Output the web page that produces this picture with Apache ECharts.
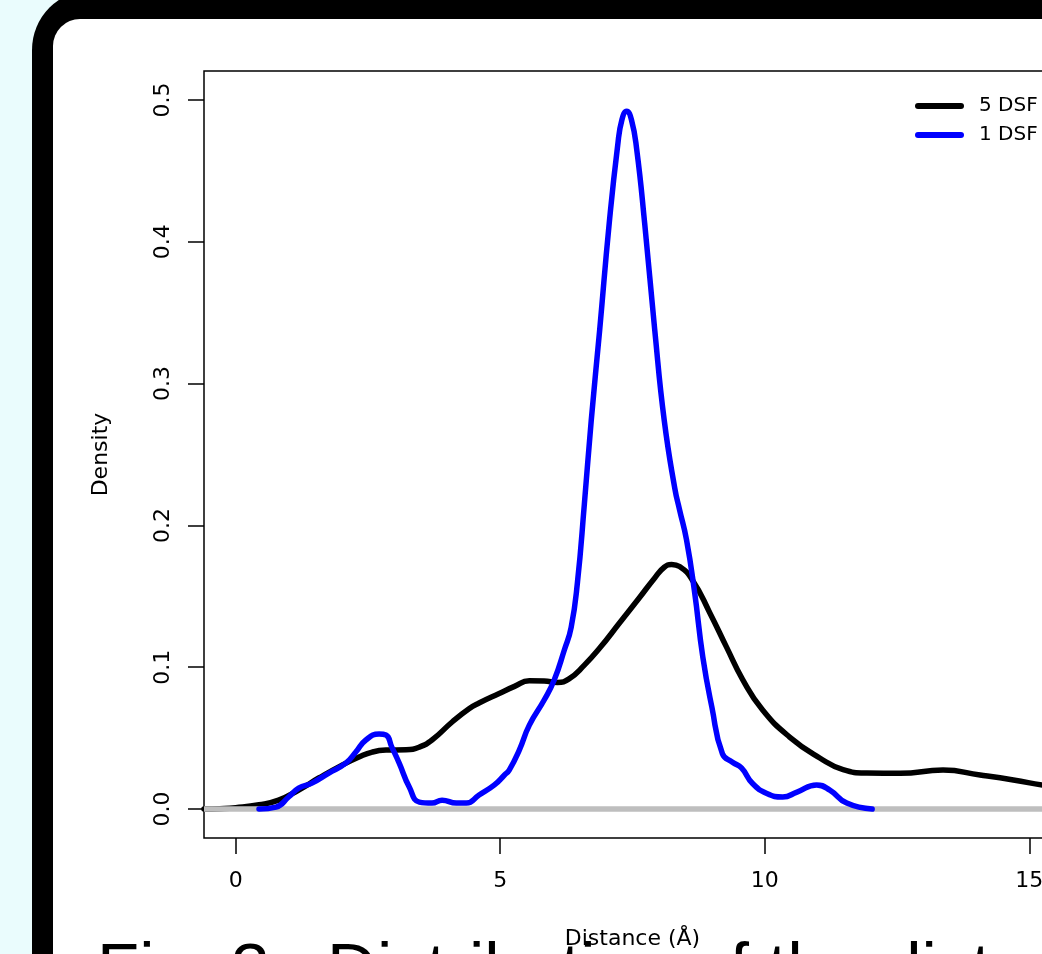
<!DOCTYPE html>
<html><head><meta charset="utf-8">
<script src="https://cdn.jsdelivr.net/npm/echarts@6/dist/echarts.min.js"></script>
<style>html,body{margin:0;padding:0;background:#eafcfd;overflow:hidden;} #c{width:1042px;height:954px;}</style>
</head><body><div id="c"></div>
<script>
const xTicks = [0, 5, 10, 15];
const yTicks = [0, 0.1, 0.2, 0.3, 0.4, 0.5];
const seriesNames = ['5 DSF', '1 DSF'];
const xTitle = 'Distance (Å)';
const yTitle = 'Density';
const caption = 'Fig. 3.  Distribution of the distances';

const blackX = [-0.6, -0.3, 0.0, 0.44, 0.81, 1.19, 1.57, 2.01, 2.33, 2.58, 2.84, 3.22, 3.47, 3.71, 4.09, 4.41, 4.60, 4.98, 5.27, 5.55, 5.83, 6.08, 6.3, 6.59, 6.88, 7.25, 7.63, 7.92, 8.1, 8.24, 8.39, 8.64, 8.96, 9.28, 9.58, 9.96, 10.47, 11.04, 11.48, 11.93, 12.56, 13.37, 14.07, 14.70, 15.25, 15.6];
const blackY = [0.0, 0.0003, 0.001, 0.003, 0.0063, 0.0134, 0.0219, 0.031, 0.0367, 0.0402, 0.0416, 0.0418, 0.0437, 0.0487, 0.0614, 0.0708, 0.0748, 0.0815, 0.0865, 0.0905, 0.0903, 0.0893, 0.0918, 0.1015, 0.1135, 0.131, 0.149, 0.163, 0.1705, 0.1725, 0.171, 0.161, 0.1385, 0.1140, 0.0915, 0.0698, 0.0508, 0.0360, 0.0278, 0.0254, 0.0252, 0.0275, 0.0240, 0.0205, 0.0169, 0.015];

const blueX = [0.44, 0.76, 1.0, 1.19, 1.44, 1.76, 2.08, 2.27, 2.46, 2.71, 2.84, 2.95, 3.09, 3.28, 3.47, 3.71, 3.90, 4.17, 4.36, 4.60, 4.89, 5.08, 5.17, 5.36, 5.55, 5.83, 6.02, 6.21, 6.34, 6.46, 6.59, 6.72, 6.88, 7.06, 7.22, 7.30, 7.39, 7.48, 7.58, 7.73, 7.92, 8.1, 8.3, 8.39, 8.52, 8.67, 8.83, 9.0, 9.2, 9.39, 9.56, 9.77, 10.04, 10.34, 10.61, 10.98, 11.23, 11.55, 12.03];
const blueY = [0.0, 0.0014, 0.0085, 0.0148, 0.0183, 0.0254, 0.0324, 0.0402, 0.0487, 0.0529, 0.0522, 0.0437, 0.0324, 0.0155, 0.0049, 0.0042, 0.0063, 0.0042, 0.0042, 0.0099, 0.017, 0.024, 0.0275, 0.0416, 0.0592, 0.0769, 0.091, 0.112, 0.128, 0.160, 0.215, 0.274, 0.338, 0.413, 0.468, 0.486, 0.492, 0.486, 0.465, 0.413, 0.338, 0.274, 0.226, 0.211, 0.190, 0.154, 0.107, 0.072, 0.039, 0.033, 0.029, 0.018, 0.011, 0.0085, 0.012, 0.017, 0.0134, 0.0042, 0.0];

const baseX = [-0.6, 15.6];
const baseY = [0, 0];

const zip = (xs, ys) => xs.map((x, i) => [x, ys[i]]);
const FONT = 'DejaVu Sans';
const lineIcon = 'path://M3,0 L46,0 A3,3 0 0 1 46,6 L3,6 A3,3 0 0 1 3,0 Z';

const chart = echarts.init(document.getElementById('c'), null, {renderer: 'canvas'});
chart.setOption({
  backgroundColor: 'transparent',
  animation: false,
  textStyle: {fontFamily: FONT},
  graphic: [
    {type: 'rect', z: -10, silent: true, shape: {x: 32, y: -10, width: 1200, height: 1200, r: 60}, style: {fill: '#000'}},
    {type: 'rect', z: -9, silent: true, shape: {x: 53, y: 19, width: 1200, height: 1200, r: 27}, style: {fill: '#fff'}},
    {type: 'text', z: 100, silent: true, style: {
      text: caption, x: 97, y: 972, verticalAlign: 'middle', fill: '#000',
      font: '69px "Liberation Sans"'
    }}
  ],
  legend: {
    orient: 'vertical', left: 910, top: 91, itemWidth: 49, itemHeight: 6, itemGap: 9,
    textStyle: {fontSize: 20, fontFamily: FONT, color: '#000', padding: [0, 0, 0, 10], lineHeight: 20},
    data: [
      {name: seriesNames[0], icon: lineIcon, itemStyle: {color: '#000'}},
      {name: seriesNames[1], icon: lineIcon, itemStyle: {color: '#0000ff'}}
    ]
  },
  grid: {left: 204, top: 71, right: -19, bottom: 116, containLabel: false, outerBoundsMode: 'none', show: true, borderColor: '#000', borderWidth: 1.5, backgroundColor: 'transparent'},
  xAxis: {
    type: 'value', min: -0.6, max: 15.6,
    name: xTitle, nameLocation: 'middle', nameGap: 90,
    nameTextStyle: {fontSize: 22, color: '#000', fontFamily: FONT},
    axisLine: {show: false, onZero: false},
    splitLine: {show: false},
    axisTick: {show: true, inside: false, length: 16, customValues: xTicks, lineStyle: {color: '#000', width: 1.5}},
    axisLabel: {show: true, margin: 32, customValues: xTicks, fontSize: 22, color: '#000', fontFamily: FONT, formatter: v => String(v)}
  },
  yAxis: {
    type: 'value', min: -0.0204, max: 0.5204,
    name: yTitle, nameLocation: 'middle', nameGap: 92,
    nameTextStyle: {fontSize: 22, color: '#000', fontFamily: FONT},
    axisLine: {show: false, onZero: false},
    splitLine: {show: false},
    axisTick: {show: true, inside: false, length: 16, customValues: yTicks, lineStyle: {color: '#000', width: 1.5}},
    axisLabel: {show: true, rotate: 90, margin: 30, customValues: yTicks, fontSize: 22, color: '#000', fontFamily: FONT, formatter: v => v.toFixed(1)}
  },
  series: [
    {name: seriesNames[0], type: 'line', data: zip(blackX, blackY), smooth: 0.5, symbol: 'none', z: 3,
     lineStyle: {color: '#000', width: 5.5, cap: 'round', join: 'round'}, itemStyle: {color: '#000'}},
    {name: 'zero', type: 'line', data: zip(baseX, baseY), symbol: 'none', z: 4,
     lineStyle: {color: '#bebebe', width: 5.5}, itemStyle: {color: '#bebebe'}},
    {name: seriesNames[1], type: 'line', data: zip(blueX, blueY), smooth: 0.5, symbol: 'none', z: 5,
     lineStyle: {color: '#0000ff', width: 5.5, cap: 'round', join: 'round'}, itemStyle: {color: '#0000ff'}}
  ]
});
</script></body></html>
